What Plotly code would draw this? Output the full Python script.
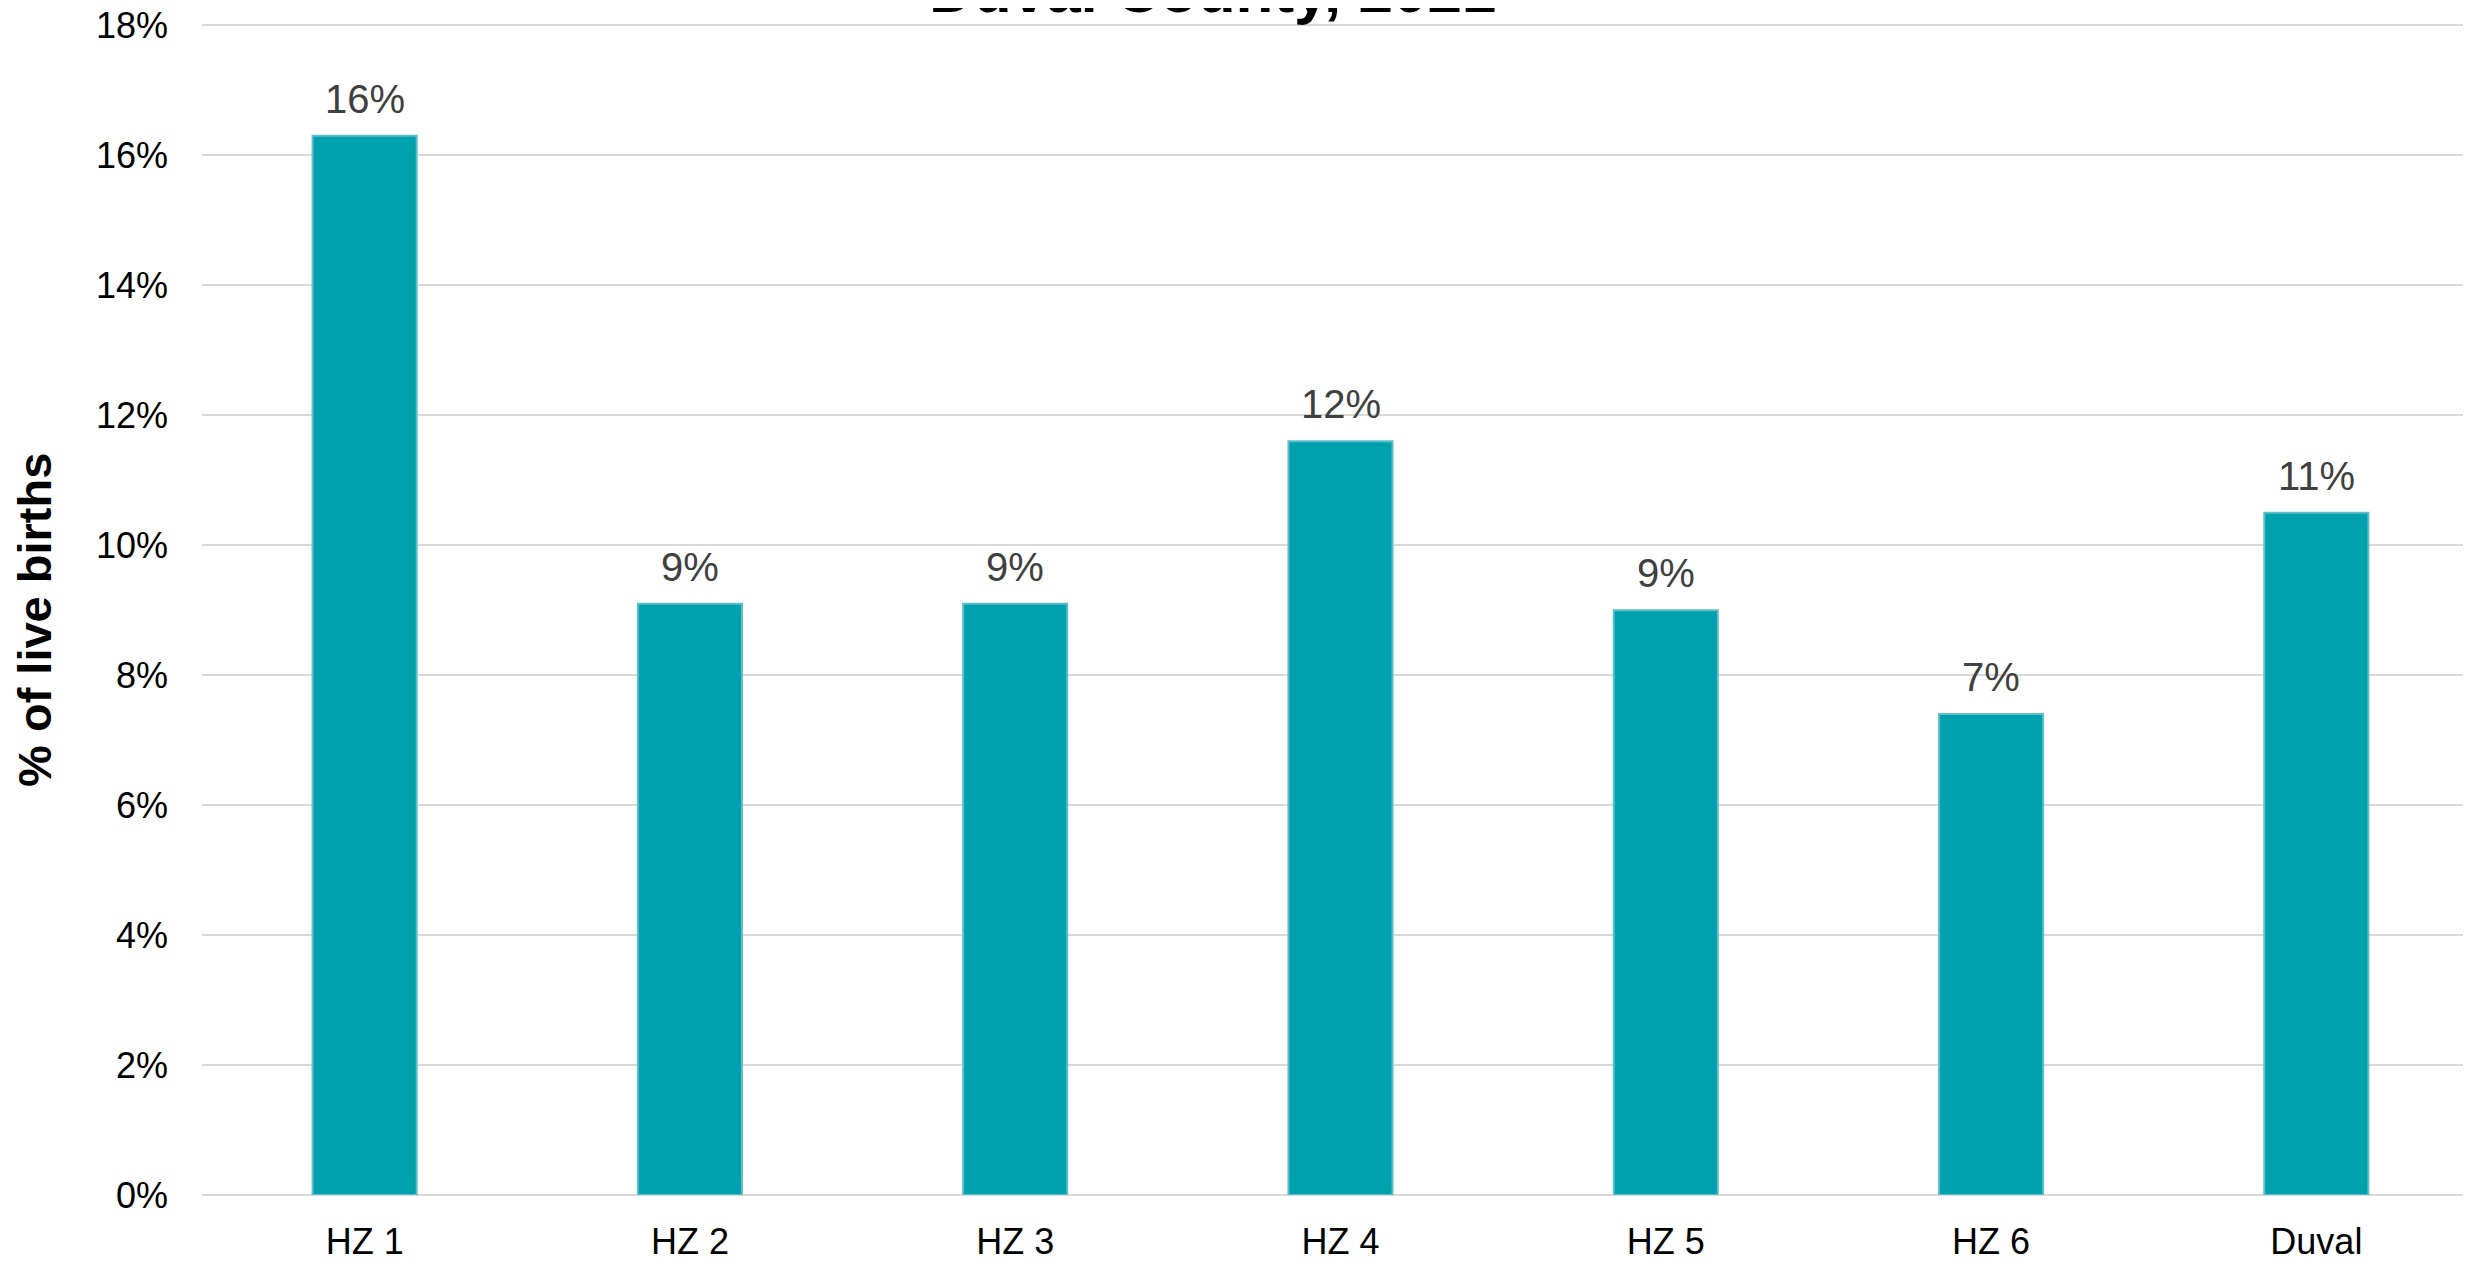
import plotly.graph_objects as go

categories = ["HZ 1", "HZ 2", "HZ 3", "HZ 4", "HZ 5", "HZ 6", "Duval"]
values = [16.3, 9.1, 9.1, 11.6, 9.0, 7.4, 10.5]
value_labels = ["16%", "9%", "9%", "12%", "9%", "7%", "11%"]
y_ticks = [0, 2, 4, 6, 8, 10, 12, 14, 16, 18]
y_tick_labels = ["0%", "2%", "4%", "6%", "8%", "10%", "12%", "14%", "16%", "18%"]
title_text = "Duval County, 2021"
y_title = "% of live births"

FONT = "Liberation Sans, Arial, sans-serif"

fig = go.Figure()
fig.add_trace(go.Bar(
    x=categories,
    y=values,
    width=0.32,
    marker=dict(color="#00A1AF", line=dict(color="#5CBFC9", width=2)),
    hoverinfo="skip",
))

annotations = []
for cat, val, lab in zip(categories, values, value_labels):
    annotations.append(dict(
        x=cat, y=val, xref="x", yref="y",
        text=lab, showarrow=False,
        xanchor="center", yanchor="bottom", yshift=13,
        font=dict(family=FONT, size=40, color="#404040"),
    ))

annotations += [
    dict(
        text="<b>" + title_text + "</b>",
        xref="paper", yref="paper",
        x=0.444, y=1, xanchor="center", yanchor="bottom",
        yshift=-3,
        showarrow=False,
        font=dict(family=FONT, size=62, color="black"),
    ),
    dict(
        text="<b>" + y_title + "</b>",
        xref="paper", yref="paper",
        x=-0.0736, y=0.5, xanchor="center", yanchor="middle",
        yshift=-10,
        textangle=-90,
        showarrow=False,
        font=dict(family=FONT, size=47, color="black"),
    ),
]

fig.update_layout(
    width=2471,
    height=1262,
    margin=dict(l=194, r=0, t=16, b=75, autoexpand=False),
    paper_bgcolor="white",
    plot_bgcolor="white",
    showlegend=False,
    font=dict(family=FONT, color="black"),
    xaxis=dict(
        showgrid=False,
        showline=False,
        ticks="",
        automargin=False,
        ticklabeloverflow="allow",
        tickfont=dict(family=FONT, size=36, color="black"),
        ticklabelstandoff=22,
    ),
    yaxis=dict(
        range=[0, 18.02],
        tickmode="array",
        tickvals=y_ticks,
        ticktext=y_tick_labels,
        showgrid=True,
        gridcolor="#D9D9D9",
        gridwidth=2,
        zeroline=True,
        zerolinecolor="#D9D9D9",
        zerolinewidth=2,
        showline=False,
        ticks="",
        automargin=False,
        ticklabeloverflow="allow",
        tickfont=dict(family=FONT, size=36, color="black"),
        ticklabelstandoff=33,
    ),
    annotations=annotations,
)

fig.write_html("out.html")
